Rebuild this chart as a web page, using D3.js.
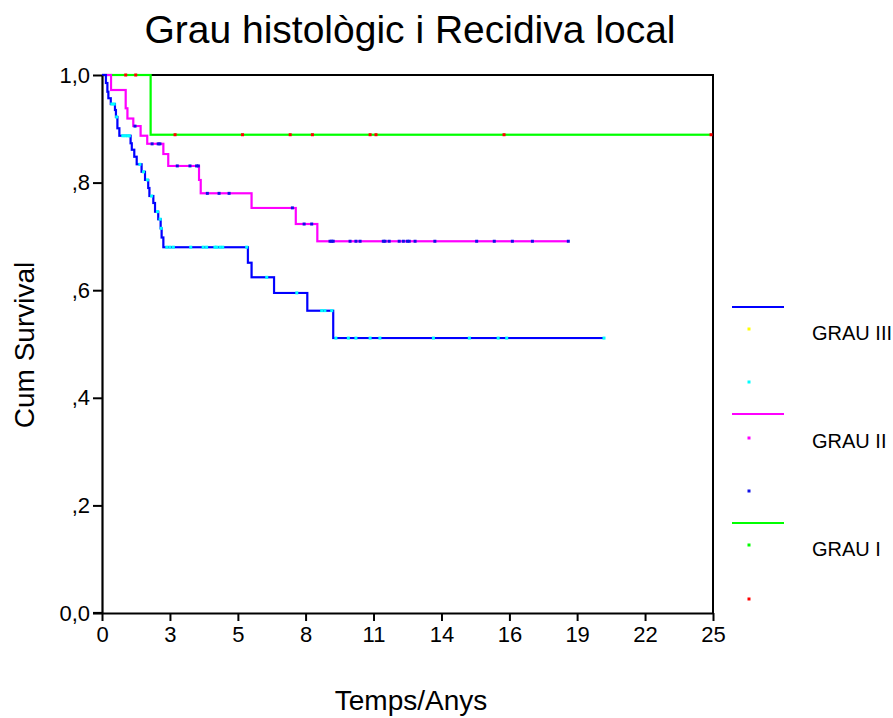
<!DOCTYPE html>
<html>
<head>
<meta charset="utf-8">
<script src="https://cdn.jsdelivr.net/npm/d3@7"></script>
<style>
  html, body { margin: 0; padding: 0; background: #fff; }
  svg { display: block; }
  text { font-family: "Liberation Sans", Arial, sans-serif; fill: #000; }
</style>
</head>
<body>
<div id="chart"></div>
<script>
// Kaplan-Meier curves: local recurrence by histological grade
const seriesNames = ["GRAU III", "GRAU II", "GRAU I"];

// GRAU III: event times (years) and survival after each event
const grau3Times = [0.16, 0.22, 0.26, 0.36, 0.53, 0.57, 0.63, 0.71, 1.17, 1.22, 1.32, 1.42, 1.62, 1.76, 1.89, 1.94, 2.10, 2.17, 2.30, 2.40, 2.44, 2.51, 5.97, 6.12, 7.04, 8.40, 9.46];
const grau3Surv  = [0.985, 0.969, 0.957, 0.946, 0.935, 0.922, 0.901, 0.887, 0.873, 0.861, 0.848, 0.834, 0.820, 0.805, 0.790, 0.775, 0.762, 0.746, 0.732, 0.715, 0.698, 0.680, 0.651, 0.624, 0.595, 0.562, 0.511];
const grau3Censored = [0.40, 0.50, 0.60, 0.85, 0.95, 1.05, 1.12, 1.55, 1.70, 1.86, 2.03, 2.27, 2.38, 2.42, 2.65, 2.78, 2.92, 3.63, 4.14, 4.28, 4.62, 4.69, 4.83, 4.94, 5.92, 6.74, 7.97, 8.99, 9.12, 9.40, 9.57, 10.08, 10.39, 10.97, 11.37, 13.56, 15.03, 16.21, 16.56, 20.54];
const grau3End = 20.54;

// GRAU II
const grau2Times = [0.37, 0.97, 1.04, 1.28, 1.58, 1.85, 2.51, 2.71, 3.97, 4.04, 6.12, 7.93, 8.81];
const grau2Surv  = [0.972, 0.938, 0.919, 0.905, 0.887, 0.872, 0.853, 0.831, 0.805, 0.780, 0.753, 0.723, 0.691];
const grau2Censored = [1.35, 2.05, 2.30, 2.37, 3.08, 3.60, 3.87, 3.94, 4.31, 4.79, 5.20, 7.79, 8.27, 8.58, 9.33, 9.40, 9.46, 10.15, 10.39, 10.56, 11.51, 11.58, 11.75, 12.16, 12.33, 12.49, 12.57, 12.81, 13.62, 15.33, 16.05, 16.79, 17.61, 19.08];
const grau2End = 19.08;

// GRAU I
const grau1Times = [1.99];
const grau1Surv  = [0.889];
const grau1Censored = [0.97, 1.38, 2.99, 5.75, 7.70, 8.61, 10.97, 11.21, 16.45, 24.92];
const grau1End = 24.92;

// Axis ticks
const xTickValues = [0, 2.78, 5.56, 8.33, 11.11, 13.89, 16.67, 19.44, 22.22, 25];
const xTickLabels = ["0", "3", "5", "8", "11", "14", "16", "19", "22", "25"];
const yTickValues = [0, 0.2, 0.4, 0.6, 0.8, 1.0];
const yTickLabels = ["0,0", ",2", ",4", ",6", ",8", "1,0"];

const W = 893, H = 718;
const plot = { left: 102, right: 713, top: 75, bottom: 613 };

const svg = d3.select("#chart").append("svg")
  .attr("width", W).attr("height", H)
  .attr("viewBox", `0 0 ${W} ${H}`);

svg.append("rect").attr("width", W).attr("height", H).attr("fill", "#fff");

const x = d3.scaleLinear().domain([0, 25]).range([plot.left, plot.right]);
const y = d3.scaleLinear().domain([0, 1]).range([plot.bottom, plot.top]);

const groups = [
  { name: seriesNames[0], times: grau3Times, surv: grau3Surv, cens: grau3Censored, end: grau3End,
    line: "#0000ff", mark: "#00ffff", key: "#ffff00" },
  { name: seriesNames[1], times: grau2Times, surv: grau2Surv, cens: grau2Censored, end: grau2End,
    line: "#ff00ff", mark: "#1010e8", key: "#ff00ff" },
  { name: seriesNames[2], times: grau1Times, surv: grau1Surv, cens: grau1Censored, end: grau1End,
    line: "#00ff00", mark: "#ff0000", key: "#00ff00" }
];

function survivalAt(g, t) {
  let s = 1;
  g.times.forEach((et, i) => { if (et <= t) s = g.surv[i]; });
  return s;
}

const step = d3.line().x(d => x(d[0])).y(d => y(d[1])).curve(d3.curveStepAfter);

// Frame (top and right)
svg.append("line").attr("x1", plot.left).attr("x2", plot.right)
  .attr("y1", plot.top).attr("y2", plot.top)
  .attr("stroke", "#000").attr("stroke-width", 2);
svg.append("line").attr("x1", plot.right).attr("x2", plot.right)
  .attr("y1", plot.top - 1).attr("y2", plot.bottom)
  .attr("stroke", "#000").attr("stroke-width", 2);

// Curves, drawn from GRAU I up so GRAU III sits on top
groups.slice().reverse().forEach(g => {
  const pts = [[0, 1]];
  g.times.forEach((t, i) => pts.push([t, g.surv[i]]));
  pts.push([g.end, g.surv[g.surv.length - 1]]);
  svg.append("path").attr("d", step(pts))
    .attr("fill", "none").attr("stroke", g.line).attr("stroke-width", 2.4)
    .attr("stroke-opacity", 0.35);
  svg.append("path").attr("d", step(pts))
    .attr("fill", "none").attr("stroke", g.line).attr("stroke-width", 2);

  svg.append("g").selectAll("rect").data(g.cens).join("rect")
    .attr("x", d => x(d) - 1.5)
    .attr("y", d => y(survivalAt(g, d)) - 1.5)
    .attr("width", 3).attr("height", 3)
    .attr("fill", g.mark);
});

// Axes
const yAxis = d3.axisLeft(y).tickValues(yTickValues)
  .tickFormat((d, i) => yTickLabels[i]).tickSize(9).tickSizeOuter(0).tickPadding(3);
const yG = svg.append("g").attr("transform", `translate(${plot.left},0)`).call(yAxis);

const xAxis = d3.axisBottom(x).tickValues(xTickValues)
  .tickFormat((d, i) => xTickLabels[i]).tickSize(8).tickSizeOuter(0).tickPadding(5);
const xG = svg.append("g").attr("transform", `translate(0,${plot.bottom})`).call(xAxis);

[yG, xG].forEach(g => {
  g.select(".domain").attr("stroke", "#000").attr("stroke-width", 2.2);
  g.selectAll(".tick line").attr("stroke", "#000").attr("stroke-width", 2);
  g.selectAll(".tick text").style("font-family", "'Liberation Sans', Arial, sans-serif")
    .style("font-size", "22px").attr("fill", "#000");
});
// extend the bottom axis line under the 0,0 tick
svg.append("line").attr("x1", plot.left - 9).attr("x2", plot.left)
  .attr("y1", plot.bottom).attr("y2", plot.bottom)
  .attr("stroke", "#000").attr("stroke-width", 2.2);

// Titles
svg.append("text").attr("x", 410).attr("y", 43).attr("text-anchor", "middle")
  .style("font-size", "39px").text("Grau histològic i Recidiva local");
svg.append("text").attr("x", 411).attr("y", 710).attr("text-anchor", "middle")
  .style("font-size", "28px").text("Temps/Anys");
svg.append("text").attr("transform", "translate(34,345) rotate(-90)").attr("text-anchor", "middle")
  .style("font-size", "28px").text("Cum Survival");

// Legend: survival line, key marker and censored marker per group
const legendLineY = [307, 414, 523];
const legendKeyY = [329, 438, 545];
const legendCensY = [382, 491, 599];
const legendTextY = [340, 448, 556];
groups.forEach((g, i) => {
  svg.append("line").attr("x1", 732).attr("x2", 784)
    .attr("y1", legendLineY[i]).attr("y2", legendLineY[i])
    .attr("stroke", g.line).attr("stroke-width", 2.2);
  svg.append("rect").attr("x", 747.5).attr("y", legendKeyY[i] - 1.5)
    .attr("width", 3).attr("height", 3).attr("fill", g.key);
  svg.append("rect").attr("x", 747.5).attr("y", legendCensY[i] - 1.5)
    .attr("width", 3).attr("height", 3).attr("fill", g.mark);
  svg.append("text").attr("x", 812).attr("y", legendTextY[i])
    .style("font-size", "20px").text(g.name);
});
</script>
</body>
</html>
